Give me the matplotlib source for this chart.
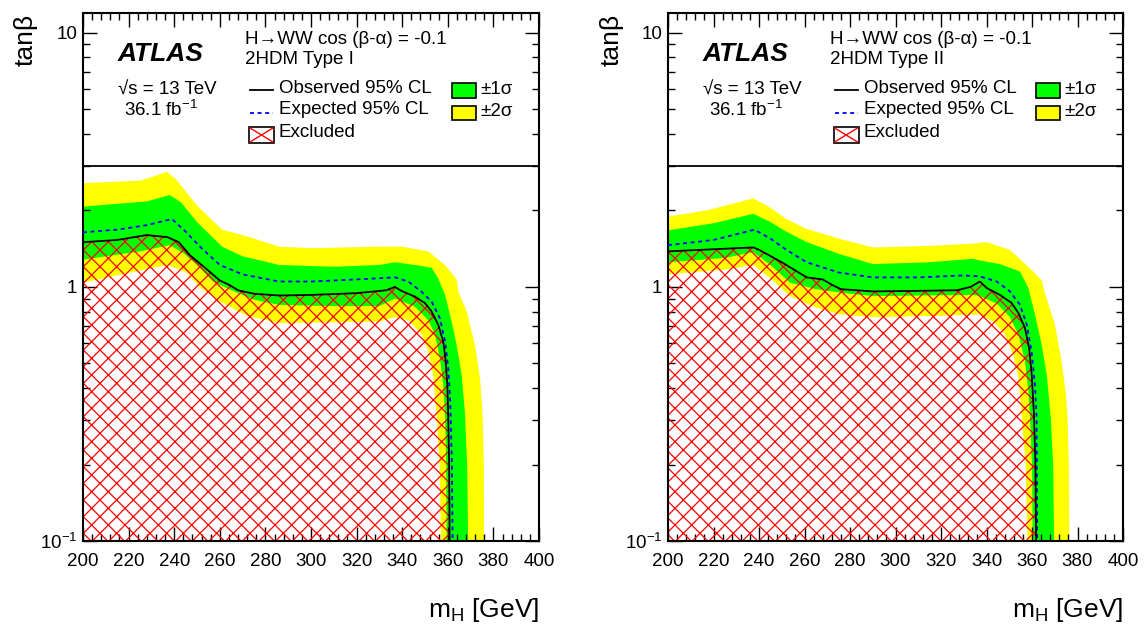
import matplotlib
matplotlib.use("Agg")
import matplotlib.pyplot as plt
from matplotlib.ticker import MultipleLocator, FixedLocator, FixedFormatter, LogLocator, NullFormatter
from matplotlib.patches import Rectangle
from matplotlib.lines import Line2D

plt.rcParams['font.family'] = ['Liberation Sans', 'DejaVu Sans']
plt.rcParams['mathtext.fontset'] = 'custom'
plt.rcParams['mathtext.rm'] = 'Liberation Sans'
plt.rcParams['mathtext.it'] = 'Liberation Sans:italic'
plt.rcParams['hatch.linewidth'] = 0.9
plt.rcParams['hatch.color'] = 'red'

# ---- Type I : curves as (m_H, tan beta) ----
t1_obs_m = [200, 215, 228, 237, 242, 247, 253, 260, 264, 268, 275, 286, 300, 320, 333, 336.8, 339.8,
            345.6, 350, 352.9, 355.8, 358, 359.1, 359.8, 360.2, 360.6, 360.8]
t1_obs_tb = [1.50, 1.53, 1.60, 1.57, 1.50, 1.33, 1.20, 1.06, 1.02, 0.97, 0.94, 0.925, 0.93, 0.945, 0.97, 1.0, 0.963,
             0.916, 0.863, 0.80, 0.71, 0.61, 0.51, 0.41, 0.31, 0.2, 0.1]
t1_exp_m = [200, 215, 228, 239, 245, 252, 260, 270, 286, 300, 320, 336.8, 342.7, 348.5, 352.9, 356.6, 358.8,
            360.2, 361.1, 361.8, 362.1]
t1_exp_tb = [1.64, 1.68, 1.75, 1.85, 1.65, 1.42, 1.22, 1.12, 1.05, 1.05, 1.07, 1.09, 1.05, 0.957, 0.875, 0.75, 0.61,
             0.48, 0.35, 0.2, 0.1]
t1_g_up_m = [200, 228, 238, 243, 250, 261, 270, 286, 310, 330, 336.8, 345.6, 352.9, 355.8, 358.8, 361.7, 363.9,
             366.1, 367.5, 368.5, 368.9]
t1_g_up_tb = [2.07, 2.17, 2.30, 2.15, 1.80, 1.44, 1.32, 1.22, 1.20, 1.22, 1.25, 1.22, 1.19, 1.08, 0.93, 0.73, 0.59,
              0.45, 0.32, 0.2, 0.1]
t1_g_lo_m = [200, 225, 238, 244, 250, 257, 264, 275, 286, 310, 330, 336.8, 345.6, 351.4, 354.4, 356.6, 358,
             358.8, 359.3, 359.5]
t1_g_lo_tb = [1.28, 1.38, 1.46, 1.36, 1.22, 1.05, 0.98, 0.89, 0.85, 0.84, 0.84, 0.90, 0.836, 0.74, 0.65, 0.52, 0.41,
              0.31, 0.2, 0.1]
t1_y_up_m = [200, 225, 231, 236.7, 241, 250, 261, 272, 286, 300, 330, 340, 351.4, 358.8, 363.9, 364.6, 368.3,
             371.9, 374.1, 375.3, 375.8, 375.9]
t1_y_up_tb = [2.56, 2.62, 2.72, 2.84, 2.64, 2.09, 1.68, 1.58, 1.44, 1.42, 1.44, 1.44, 1.38, 1.22, 1.07, 0.96, 0.80,
              0.59, 0.44, 0.31, 0.2, 0.1]
t1_y_lo_m = [200, 225, 237, 245.5, 251, 260, 272, 286, 330, 336.8, 342.7, 348.5, 351.4, 353.6, 355.1, 356.4, 357]
t1_y_lo_tb = [1.04, 1.16, 1.22, 1.14, 1.0, 0.875, 0.77, 0.72, 0.73, 0.76, 0.74, 0.65, 0.56, 0.45, 0.31, 0.2, 0.1]

# ---- Type II ----
t2_obs_m = [200, 215, 230, 237.5, 240, 250, 261, 268, 272, 276, 290, 310, 327, 333, 337.1, 340.1, 345.9, 351,
            354, 356.9, 358.8, 359.9, 360.9, 361.5, 361.8]
t2_obs_tb = [1.38, 1.40, 1.42, 1.43, 1.40, 1.25, 1.09, 1.07, 1.02, 0.98, 0.96, 0.965, 0.97, 1.0, 1.05, 0.99, 0.93,
             0.865, 0.79, 0.69, 0.57, 0.45, 0.31, 0.2, 0.1]
t2_exp_m = [200, 220, 238, 245, 252, 261, 275, 290, 310, 330, 337.1, 344.5, 350.3, 354.7, 357.7, 359.9, 361.3,
            362, 362.3]
t2_exp_tb = [1.46, 1.53, 1.68, 1.55, 1.40, 1.25, 1.14, 1.09, 1.09, 1.11, 1.10, 1.05, 0.96, 0.85, 0.71, 0.55, 0.41,
             0.31, 0.1]
t2_g_up_m = [200, 220, 237.5, 245, 252, 261, 275, 290, 315, 334, 337.1, 345.9, 354.7, 358.4, 361.3, 364.3, 366.5,
             368.2, 369.3, 369.7]
t2_g_up_tb = [1.67, 1.78, 1.94, 1.80, 1.65, 1.50, 1.35, 1.23, 1.25, 1.29, 1.27, 1.23, 1.15, 0.99, 0.78, 0.59, 0.45,
              0.31, 0.2, 0.1]
t2_g_lo_m = [200, 225, 237.5, 245, 253.6, 265, 275.6, 290, 334, 337.1, 344.5, 350.3, 354, 356.9, 358.4, 359.1,
             360, 360.3]
t2_g_lo_tb = [1.25, 1.30, 1.37, 1.22, 1.04, 0.98, 0.95, 0.92, 0.93, 0.92, 0.86, 0.76, 0.65, 0.51, 0.39, 0.31, 0.2,
              0.1]
t2_y_up_m = [200, 217, 237.5, 245, 252, 261, 275, 290, 315, 334, 340, 350.3, 360.5, 364.3, 365.7, 370.1, 373,
             374.9, 375.6, 376.2, 376.4]
t2_y_up_tb = [1.89, 2.0, 2.23, 2.05, 1.85, 1.69, 1.55, 1.43, 1.45, 1.48, 1.50, 1.40, 1.15, 1.06, 0.94, 0.71, 0.51,
              0.38, 0.31, 0.2, 0.1]
t2_y_lo_m = [200, 225, 237.5, 245, 253.6, 265, 275.6, 290, 320, 337.1, 343, 348.1, 351.8, 354, 355.5, 357.2, 358]
t2_y_lo_tb = [1.12, 1.17, 1.22, 1.08, 0.92, 0.83, 0.78, 0.76, 0.77, 0.78, 0.73, 0.65, 0.54, 0.44, 0.31, 0.2, 0.1]

panel_titles = ["2HDM Type I", "2HDM Type II"]

fig = plt.figure(figsize=(11.45, 6.26), dpi=100)
W, H = 1145.0, 626.0


def band(ax, up_m, up_tb, lo_m, lo_tb, color):
    xs = list(up_m) + list(lo_m)[::-1]
    ys = list(up_tb) + list(lo_tb)[::-1]
    ax.fill(xs, ys, color=color, lw=0, zorder=1)


def draw_panel(ax, c, title):
    (obs_m, obs_tb, exp_m, exp_tb, gu_m, gu_tb, gl_m, gl_tb, yu_m, yu_tb, yl_m, yl_tb) = c
    band(ax, yu_m, yu_tb, yl_m, yl_tb, '#ffff00')
    band(ax, gu_m, gu_tb, gl_m, gl_tb, '#00ff00')
    ax.fill(list(obs_m) + [200], list(obs_tb) + [0.1], facecolor='none', edgecolor='red',
            lw=0, hatch='xx', zorder=2)
    ax.plot(exp_m, exp_tb, color='blue', lw=1.3, ls=(0, (2.2, 2.0)), zorder=3)
    ax.plot(obs_m, obs_tb, color='black', lw=1.3, zorder=4)
    ax.axhline(3, color='black', lw=1.3, zorder=4)

    ax.set_xlim(200, 400)
    ax.set_yscale('log')
    ax.set_ylim(0.1, 12)
    ax.xaxis.set_major_locator(MultipleLocator(20))
    ax.xaxis.set_minor_locator(MultipleLocator(4))
    ax.yaxis.set_major_locator(FixedLocator([0.1, 1, 10]))
    ax.yaxis.set_major_formatter(FixedFormatter([r'$\mathregular{10^{-1}}$', '1', '10']))
    ax.yaxis.set_minor_locator(LogLocator(base=10, subs=[2, 3, 4, 5, 6, 7, 8, 9]))
    ax.yaxis.set_minor_formatter(NullFormatter())
    ax.tick_params(which='both', direction='in', top=True, right=True, labelsize=13.5, width=1.0)
    ax.tick_params(which='major', length=10)
    ax.tick_params(which='minor', length=5)
    ax.tick_params(axis='x', pad=9)
    ax.tick_params(axis='y', pad=4)
    for s in ax.spines.values():
        s.set_linewidth(1.5)

    # pixel helpers (axes box 456 x 528 px)
    def fx(px):
        return (px - 83) / 456.0

    def fy(py):
        return (541 - py) / 528.3

    tr = ax.transAxes
    ax.text(fx(118), fy(54), 'ATLAS', transform=tr, fontsize=19, fontweight='bold', fontstyle='italic',
            va='center', ha='left')
    ax.text(fx(245), fy(40), 'H→WW cos (β-α) = -0.1', transform=tr, fontsize=13.5, va='center')
    ax.text(fx(245), fy(60), title, transform=tr, fontsize=13.5, va='center')
    ax.text(fx(118), fy(90), '√s = 13 TeV', transform=tr, fontsize=13.5, va='center')
    ax.text(fx(124), fy(110), r'36.1 fb$^{\mathregular{-1}}$', transform=tr, fontsize=13.5, va='center')

    ax.add_line(Line2D([fx(250), fx(273)], [fy(90), fy(90)], transform=tr, color='black', lw=1.3))
    ax.text(fx(279), fy(89), 'Observed 95% CL', transform=tr, fontsize=13.5, va='center')
    ax.add_line(Line2D([fx(250), fx(273)], [fy(113), fy(113)], transform=tr, color='blue', lw=1.3,
                       ls=(0, (2.2, 2.0))))
    ax.text(fx(279), fy(110), 'Expected 95% CL', transform=tr, fontsize=13.5, va='center')
    ax.add_patch(Rectangle((fx(249), fy(143)), fx(274) - fx(249), fy(127) - fy(143), transform=tr,
                           facecolor='white', edgecolor='black', lw=1.2))
    ax.add_line(Line2D([fx(250), fx(273)], [fy(142), fy(128)], transform=tr, color='red', lw=1.0))
    ax.add_line(Line2D([fx(250), fx(273)], [fy(128), fy(142)], transform=tr, color='red', lw=1.0))
    ax.text(fx(279), fy(133), 'Excluded', transform=tr, fontsize=13.5, va='center')

    ax.add_patch(Rectangle((fx(452), fy(98)), fx(476) - fx(452), fy(83) - fy(98), transform=tr,
                           facecolor='#00ff00', edgecolor='black', lw=1.2))
    ax.text(fx(480), fy(90), '±1σ', transform=tr, fontsize=13.5, va='center')
    ax.add_patch(Rectangle((fx(452), fy(120)), fx(476) - fx(452), fy(106) - fy(120), transform=tr,
                           facecolor='#ffff00', edgecolor='black', lw=1.2))
    ax.text(fx(480), fy(112), '±2σ', transform=tr, fontsize=13.5, va='center')

    ax.text(1.0, fy(617), r'm$_{\mathregular{H}}$ [GeV]', transform=tr, fontsize=19, ha='right', va='baseline')
    ax.text(fx(26), fy(14), 'tanβ', transform=tr, fontsize=19, rotation=90, ha='center', va='top')


ax1 = fig.add_axes([83 / W, 85 / H, 456 / W, 528.3 / H])
ax2 = fig.add_axes([668 / W, 85 / H, 455 / W, 528.3 / H])

draw_panel(ax1, (t1_obs_m, t1_obs_tb, t1_exp_m, t1_exp_tb, t1_g_up_m, t1_g_up_tb, t1_g_lo_m, t1_g_lo_tb,
                 t1_y_up_m, t1_y_up_tb, t1_y_lo_m, t1_y_lo_tb), panel_titles[0])
draw_panel(ax2, (t2_obs_m, t2_obs_tb, t2_exp_m, t2_exp_tb, t2_g_up_m, t2_g_up_tb, t2_g_lo_m, t2_g_lo_tb,
                 t2_y_up_m, t2_y_up_tb, t2_y_lo_m, t2_y_lo_tb), panel_titles[1])

fig.savefig('out.png', dpi=100)
